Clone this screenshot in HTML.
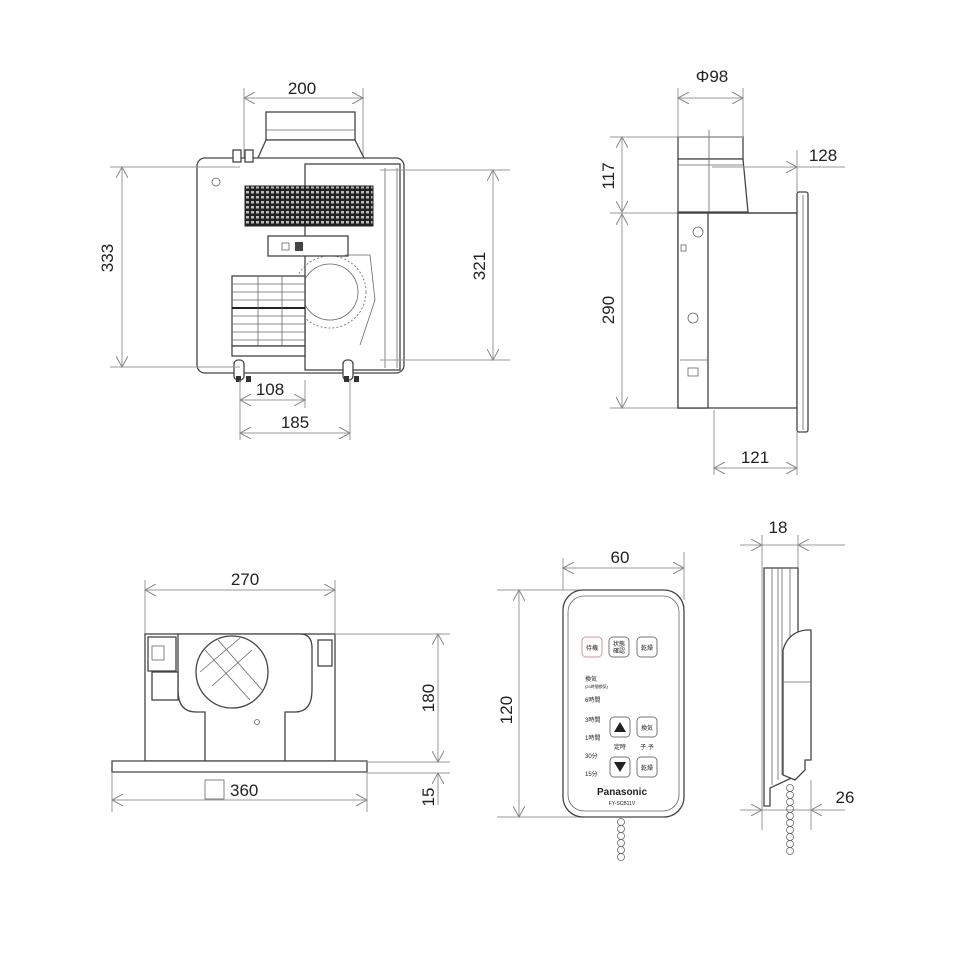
<!DOCTYPE html>
<html><head><meta charset="utf-8"><style>
html,body{margin:0;padding:0;background:#fff}
svg{display:block}
text{font-family:"Liberation Sans","Noto Sans CJK JP",sans-serif;fill:#222}
.d{stroke:#999;stroke-width:1;fill:none}
.o{stroke:#444;stroke-width:1.3;fill:#fff}
.t{stroke:#666;stroke-width:0.8;fill:none}
.n{font-size:17px}
</style></head><body>
<svg width="960" height="960" viewBox="0 0 960 960" xmlns="http://www.w3.org/2000/svg">
<defs>
<marker id="a" viewBox="0 0 12 12" refX="11" refY="6" markerWidth="12" markerHeight="12" orient="auto-start-reverse" markerUnits="userSpaceOnUse">
<path d="M0,0 L11,6 L0,12" fill="none" stroke="#888" stroke-width="1"/></marker>
<pattern id="g" width="5" height="5" patternUnits="userSpaceOnUse"><rect width="5" height="5" fill="#222"/><rect x="1" y="1" width="3" height="2.5" fill="#bbb"/></pattern>
</defs>

<!-- ===== TOP LEFT ===== -->
<g>
<line class="d" x1="244" y1="88" x2="244" y2="160"/><line class="d" x1="363" y1="88" x2="363" y2="170"/>
<line class="d" x1="244" y1="98" x2="363" y2="98" marker-start="url(#a)" marker-end="url(#a)"/>
<text class="n" x="302" y="94" text-anchor="middle">200</text>
<rect class="o" x="266" y="112" width="89" height="28"/>
<path class="o" d="M266,140 L355,140 L365,160 L257,160 Z"/>
<line class="t" x1="266" y1="130" x2="355" y2="130"/>
<rect class="o" x="197" y="158" width="207" height="215" rx="8"/>
<rect class="o" x="305" y="164" width="95" height="206"/>
<line class="t" x1="385" y1="168" x2="385" y2="368"/><line class="t" x1="397" y1="168" x2="397" y2="368"/>
<circle class="t" cx="216" cy="182" r="4"/>
<rect class="o" x="233" y="150" width="8" height="12" fill="#555"/><rect class="o" x="245" y="150" width="8" height="12" fill="#555"/>
<rect x="245" y="186" width="128" height="40" fill="url(#g)" stroke="#222"/>
<rect class="o" x="268" y="236" width="80" height="20"/>
<rect class="t" x="282" y="243" width="7" height="7"/><rect x="295" y="242" width="8" height="9" fill="#444"/>
<circle class="t" cx="330" cy="292" r="28"/><circle class="t" cx="330" cy="292" r="36" stroke-dasharray="2 2"/>
<path class="t" d="M345,255 L370,255 L375,300 L360,345"/>
<rect class="o" x="232" y="276" width="73" height="70" fill="#fff"/>
<g class="t">
<line x1="232" y1="284" x2="305" y2="284"/><line x1="232" y1="292" x2="305" y2="292"/><line x1="232" y1="300" x2="305" y2="300"/>
<line x1="232" y1="308" x2="305" y2="308" stroke="#222" stroke-width="2"/><line x1="232" y1="316" x2="305" y2="316"/><line x1="232" y1="324" x2="305" y2="324"/>
<line x1="232" y1="332" x2="305" y2="332"/><line x1="232" y1="340" x2="305" y2="340"/>
<line x1="258" y1="276" x2="258" y2="346"/><line x1="282" y1="276" x2="282" y2="346"/>
</g>
<rect class="o" x="232" y="346" width="73" height="10"/>
<rect class="o" x="234" y="360" width="10" height="20" rx="4"/><rect class="o" x="343" y="360" width="10" height="20" rx="4"/>
<rect x="236" y="376" width="5" height="6" fill="#333"/><rect x="246" y="376" width="5" height="6" fill="#333"/>
<rect x="344" y="376" width="5" height="6" fill="#333"/><rect x="354" y="376" width="5" height="6" fill="#333"/>
<line class="d" x1="110" y1="167" x2="240" y2="167"/><line class="d" x1="110" y1="367" x2="240" y2="367"/>
<line class="d" x1="122" y1="167" x2="122" y2="367" marker-start="url(#a)" marker-end="url(#a)"/>
<text class="n" transform="translate(113,258) rotate(-90)" text-anchor="middle">333</text>
<line class="d" x1="380" y1="170" x2="510" y2="170"/><line class="d" x1="380" y1="360" x2="510" y2="360"/>
<line class="d" x1="493" y1="170" x2="493" y2="360" marker-start="url(#a)" marker-end="url(#a)"/>
<text class="n" transform="translate(485,266) rotate(-90)" text-anchor="middle">321</text>
<line class="d" x1="240" y1="380" x2="240" y2="440"/><line class="d" x1="305" y1="380" x2="305" y2="408"/><line class="d" x1="350" y1="380" x2="350" y2="440"/>
<line class="d" x1="240" y1="400" x2="305" y2="400" marker-start="url(#a)" marker-end="url(#a)"/>
<text class="n" x="270" y="395" text-anchor="middle">108</text>
<line class="d" x1="240" y1="433" x2="350" y2="433" marker-start="url(#a)" marker-end="url(#a)"/>
<text class="n" x="295" y="428" text-anchor="middle">185</text>
</g>

<!-- ===== TOP RIGHT ===== -->
<g>
<line class="d" x1="678" y1="88" x2="678" y2="160"/><line class="d" x1="743" y1="88" x2="743" y2="160"/>
<line class="d" x1="678" y1="98" x2="743" y2="98" marker-start="url(#a)" marker-end="url(#a)"/>
<text class="n" x="712" y="82" text-anchor="middle">Φ98</text>
<rect class="o" x="678" y="137" width="65" height="22"/>
<path class="o" d="M678,159 L743,159 L748,212 L678,212 Z"/>
<line class="t" x1="678" y1="165" x2="743" y2="165"/>
<line class="t" x1="709" y1="130" x2="709" y2="212"/>
<line class="d" x1="610" y1="137" x2="743" y2="137"/>
<line class="d" x1="610" y1="213" x2="797" y2="213"/><line class="d" x1="610" y1="408" x2="720" y2="408"/>
<line class="d" x1="622" y1="137" x2="622" y2="212" marker-start="url(#a)" marker-end="url(#a)"/>
<line class="d" x1="622" y1="214" x2="622" y2="408" marker-start="url(#a)" marker-end="url(#a)"/>
<text class="n" transform="translate(614,176) rotate(-90)" text-anchor="middle">117</text>
<text class="n" transform="translate(614,310) rotate(-90)" text-anchor="middle">290</text>
<line class="d" x1="797" y1="150" x2="797" y2="192"/>
<line class="d" x1="712" y1="167" x2="797" y2="167" marker-end="url(#a)"/><line class="d" x1="797" y1="167" x2="845" y2="167"/>
<text class="n" x="823" y="161" text-anchor="middle">128</text>
<rect class="o" x="678" y="213" width="119" height="195"/>
<rect class="o" x="678" y="213" width="30" height="195"/>
<line class="o" x1="678" y1="213" x2="797" y2="213" stroke-width="2"/>
<circle class="t" cx="698" cy="232" r="5"/><circle class="t" cx="693" cy="318" r="5"/>
<rect class="t" x="681" y="245" width="5" height="6"/><rect class="t" x="688" y="368" width="10" height="8"/>
<line class="t" x1="680" y1="360" x2="708" y2="360"/>
<rect class="o" x="797" y="192" width="11" height="240" rx="2"/>
<line class="t" x1="803" y1="195" x2="803" y2="430"/>
<line class="d" x1="714" y1="410" x2="714" y2="475"/><line class="d" x1="797" y1="432" x2="797" y2="475"/>
<line class="d" x1="714" y1="468" x2="797" y2="468" marker-start="url(#a)" marker-end="url(#a)"/>
<text class="n" x="755" y="463" text-anchor="middle">121</text>
</g>

<!-- ===== BOTTOM LEFT ===== -->
<g>
<line class="d" x1="145" y1="580" x2="145" y2="634"/><line class="d" x1="335" y1="580" x2="335" y2="634"/>
<line class="d" x1="145" y1="590" x2="335" y2="590" marker-start="url(#a)" marker-end="url(#a)"/>
<text class="n" x="245" y="585" text-anchor="middle">270</text>
<rect class="o" x="145" y="634" width="190" height="127"/>
<path class="o" d="M178,634 L300,634 Q312,634 312,648 L312,690 Q312,712 295,712 L285,712 L285,761 L205,761 L205,712 L196,712 Q178,712 178,690 Z"/>
<circle class="o" cx="232" cy="672" r="36" stroke-width="2"/>
<g class="t"><line x1="205" y1="650" x2="250" y2="700"/><line x1="218" y1="640" x2="262" y2="690"/><line x1="200" y1="672" x2="240" y2="638"/><line x1="212" y1="686" x2="252" y2="650"/></g>
<rect class="o" x="148" y="637" width="28" height="34"/><rect class="t" x="152" y="646" width="12" height="14"/>
<rect class="o" x="152" y="672" width="26" height="28"/>
<rect class="o" x="318" y="640" width="14" height="26"/>
<circle class="t" cx="257" cy="722" r="2.5"/>
<path class="o" d="M112,761 L367,761 L367,772 L112,772 Z"/>
<line class="d" x1="335" y1="634" x2="450" y2="634"/><line class="d" x1="367" y1="762" x2="450" y2="762"/><line class="d" x1="367" y1="773" x2="450" y2="773"/>
<line class="d" x1="438" y1="634" x2="438" y2="762" marker-start="url(#a)" marker-end="url(#a)"/>
<text class="n" transform="translate(434,698) rotate(-90)" text-anchor="middle">180</text>
<line class="d" x1="438" y1="805" x2="438" y2="773" marker-end="url(#a)"/>
<text class="n" transform="translate(434,797) rotate(-90)" text-anchor="middle">15</text>
<line class="d" x1="112" y1="772" x2="112" y2="812"/><line class="d" x1="367" y1="772" x2="367" y2="812"/>
<line class="d" x1="112" y1="800" x2="367" y2="800" marker-start="url(#a)" marker-end="url(#a)"/>
<rect class="t" x="205" y="780" width="19" height="19" stroke="#555"/>
<text class="n" x="230" y="796">360</text>
</g>

<!-- ===== REMOTE ===== -->
<g>
<line class="d" x1="563" y1="558" x2="563" y2="590"/><line class="d" x1="684" y1="552" x2="684" y2="600"/>
<line class="d" x1="563" y1="568" x2="684" y2="568" marker-start="url(#a)" marker-end="url(#a)"/>
<text class="n" x="620" y="563" text-anchor="middle">60</text>
<line class="d" x1="497" y1="590" x2="600" y2="590"/><line class="d" x1="497" y1="817" x2="620" y2="817"/>
<line class="d" x1="519" y1="590" x2="519" y2="817" marker-start="url(#a)" marker-end="url(#a)"/>
<text class="n" transform="translate(512,710) rotate(-90)" text-anchor="middle">120</text>
<rect class="o" x="563" y="590" width="121" height="227" rx="20" stroke="#777"/>
<rect class="t" x="568" y="596" width="111" height="215" rx="16" stroke="#aaa"/>
<g font-size="6">
<rect x="582" y="637" width="20" height="20" rx="4" fill="#fff" stroke="#c99"/><text x="592" y="650" text-anchor="middle">待機</text>
<rect x="609" y="637" width="20" height="20" rx="4" fill="#fff" stroke="#777"/><text x="619" y="646" text-anchor="middle">状態</text><text x="619" y="653" text-anchor="middle">確認</text>
<rect x="637" y="637" width="20" height="20" rx="4" fill="#fff" stroke="#777"/><text x="647" y="650" text-anchor="middle">乾燥</text>
<text x="585" y="681">換気</text><text x="585" y="688" font-size="4">(24時間換気)</text>
<text x="585" y="702">6時間</text><text x="585" y="722">3時間</text><text x="585" y="740">1時間</text><text x="585" y="758">30分</text><text x="585" y="776">15分</text>
<rect x="610" y="717" width="20" height="20" rx="4" fill="#fff" stroke="#777"/><path d="M614,732 L620,722 L626,732 Z" fill="#222"/>
<rect x="637" y="717" width="20" height="20" rx="4" fill="#fff" stroke="#777"/><text x="647" y="730" text-anchor="middle">換気</text>
<text x="620" y="749" text-anchor="middle">定時</text><text x="647" y="749" text-anchor="middle">子 予</text>
<rect x="610" y="757" width="20" height="20" rx="4" fill="#fff" stroke="#777"/><path d="M614,762 L626,762 L620,772 Z" fill="#222"/>
<rect x="637" y="757" width="20" height="20" rx="4" fill="#fff" stroke="#777"/><text x="647" y="770" text-anchor="middle">乾燥</text>
</g>
<text x="622" y="795" text-anchor="middle" font-size="10" font-weight="bold" fill="#444">Panasonic</text>
<text x="622" y="805" text-anchor="middle" font-size="5" fill="#666">FY-SCB11V</text>
<g class="t" stroke="#777">
<circle cx="621" cy="822" r="3.5"/><circle cx="621" cy="829" r="3.5"/><circle cx="621" cy="836" r="3.5"/><circle cx="621" cy="843" r="3.5"/><circle cx="621" cy="850" r="3.5"/><circle cx="621" cy="857" r="3.5"/>
</g>
</g>

<!-- ===== SIDE ===== -->
<g>
<line class="d" x1="740" y1="545" x2="762" y2="545" marker-end="url(#a)"/>
<line class="d" x1="845" y1="545" x2="798" y2="545" marker-end="url(#a)"/>
<line class="d" x1="762" y1="545" x2="798" y2="545"/>
<line class="d" x1="762" y1="535" x2="762" y2="830"/><line class="d" x1="798" y1="535" x2="798" y2="568"/>
<text class="n" x="778" y="533" text-anchor="middle">18</text>
<path class="o" d="M764,568 L798,568 L798,775 L770,788 L770,806 L764,806 Z"/>
<g class="t"><line x1="772" y1="568" x2="772" y2="785"/><line x1="778" y1="568" x2="778" y2="780"/><line x1="782" y1="568" x2="782" y2="775"/><line x1="790" y1="568" x2="790" y2="640"/></g>
<path class="o" d="M783,775 L783,650 Q788,632 806,630 L811,630 L811,760 L805,760 L805,770 L795,780 Z"/>
<line class="t" x1="784" y1="682" x2="810" y2="682"/>
<line class="d" x1="811" y1="780" x2="811" y2="830"/>
<line class="d" x1="740" y1="810" x2="762" y2="810" marker-end="url(#a)"/>
<line class="d" x1="845" y1="810" x2="811" y2="810" marker-end="url(#a)"/>
<line class="d" x1="762" y1="810" x2="811" y2="810"/>
<text class="n" x="845" y="803" text-anchor="middle">26</text>
<g class="t" stroke="#777">
<circle cx="790" cy="788" r="3.5"/><circle cx="790" cy="795" r="3.5"/><circle cx="790" cy="802" r="3.5"/><circle cx="790" cy="809" r="3.5"/><circle cx="790" cy="816" r="3.5"/><circle cx="790" cy="823" r="3.5"/><circle cx="790" cy="830" r="3.5"/><circle cx="790" cy="837" r="3.5"/><circle cx="790" cy="844" r="3.5"/><circle cx="790" cy="851" r="3.5"/>
</g>
</g>
</svg>
</body></html>
